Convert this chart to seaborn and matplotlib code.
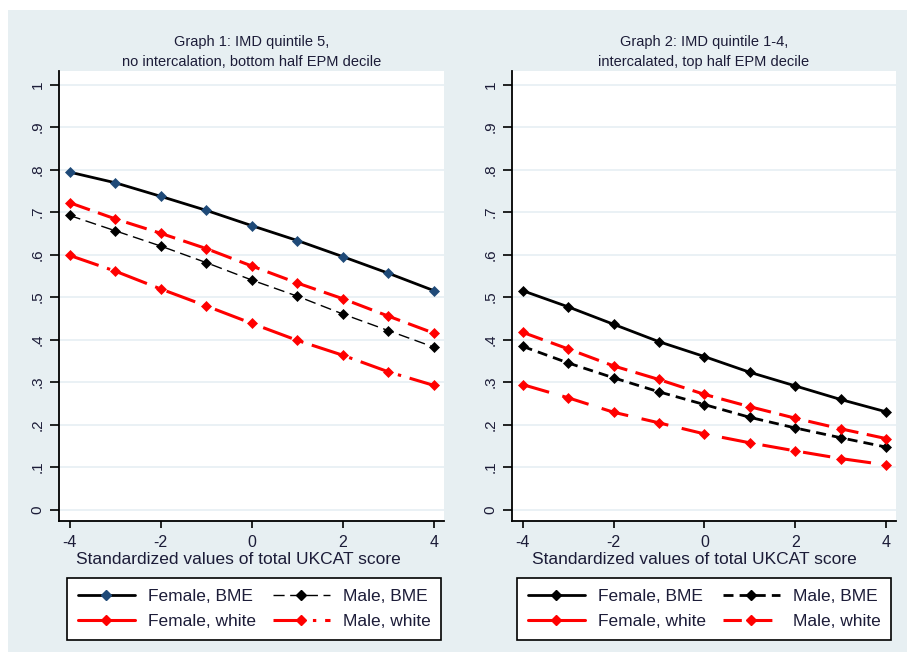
import numpy as np
import pandas as pd
import matplotlib
matplotlib.use('Agg')
import matplotlib.pyplot as plt
from matplotlib.lines import Line2D
from matplotlib.patches import Rectangle
import seaborn as sns

## Datos

x_vals = [-4, -3, -2, -1, 0, 1, 2, 3, 4]

# Graph 1
g1_female_bme = [0.794, 0.769, 0.737, 0.704, 0.668, 0.633, 0.595, 0.556, 0.515]
g1_female_white = [0.722, 0.684, 0.650, 0.614, 0.573, 0.533, 0.496, 0.455, 0.415]
g1_male_bme = [0.692, 0.656, 0.620, 0.581, 0.540, 0.502, 0.460, 0.421, 0.382]
g1_male_white = [0.598, 0.561, 0.519, 0.479, 0.438, 0.398, 0.363, 0.324, 0.292]

# Graph 2
g2_female_bme = [0.515, 0.477, 0.436, 0.395, 0.360, 0.323, 0.291, 0.259, 0.230]
g2_female_white = [0.417, 0.378, 0.338, 0.306, 0.271, 0.242, 0.215, 0.190, 0.167]
g2_male_bme = [0.384, 0.345, 0.310, 0.277, 0.247, 0.217, 0.192, 0.169, 0.147]
g2_male_white = [0.294, 0.263, 0.229, 0.204, 0.178, 0.157, 0.138, 0.120, 0.105]

titles = ['Graph 1: IMD quintile 5,\nno intercalation, bottom half EPM decile',
          'Graph 2: IMD quintile 1-4,\nintercalated, top half EPM decile']
series_names = ['Female, BME', 'Male, BME', 'Female, white', 'Male, white']
x_ticks = [-4, -2, 0, 2, 4]
y_ticks = [0, .1, .2, .3, .4, .5, .6, .7, .8, .9, 1]
y_tick_labels = ['0', '.1', '.2', '.3', '.4', '.5', '.6', '.7', '.8', '.9', '1']
x_label = 'Standardized values of total UKCAT score'

sns.set_style('ticks')
plt.rcParams['font.family'] = ['Liberation Sans', 'DejaVu Sans']

bg = '#e7eff2'
txt = '#1c1c38'
navy = '#1f4a78'
red = '#ff0000'

# estilos por panel: (color linea, color marcador, ancho, linestyle)
styles = [
    {
        'Female, BME': ('black', navy, 2.0, '-'),
        'Male, BME': ('black', 'black', 1.0, (0, (8, 4))),
        'Female, white': (red, red, 2.2, (0, (7, 2.8))),
        'Male, white': (red, red, 2.2, (0, (10, 2.9, 1.1, 2.9))),
    },
    {
        'Female, BME': ('black', 'black', 2.0, '-'),
        'Male, BME': ('black', 'black', 2.0, (0, (3.6, 2.2))),
        'Female, white': (red, red, 2.2, (0, (7, 2.8))),
        'Male, white': (red, red, 2.2, (0, (9, 4.5))),
    },
]
legend_styles = [
    {'Female, white': '-', 'Male, white': (0, (10, 2.9, 1.1, 2.9))},
    {'Female, white': '-', 'Male, white': (0, (6, 4))},
]

panels = [
    {'Female, BME': g1_female_bme, 'Male, BME': g1_male_bme,
     'Female, white': g1_female_white, 'Male, white': g1_male_white},
    {'Female, BME': g2_female_bme, 'Male, BME': g2_male_bme,
     'Female, white': g2_female_white, 'Male, white': g2_male_white},
]

fig = plt.figure(figsize=(9.07, 6.52), dpi=100)
fig.patch.set_facecolor('white')
fig.patches.append(Rectangle((8 / 907, 0), 1, 642 / 652, transform=fig.transFigure,
                             facecolor=bg, edgecolor='none', zorder=-10))

ax_pos = [[59 / 907, 1 - 521 / 652, 385 / 907, 450 / 652],
          [512 / 907, 1 - 521 / 652, 384 / 907, 450 / 652]]
xlabel_x = [0.465, 0.475]
legend_x = [(67 - 59) / 385, (517 - 512) / 384]

for i in range(2):
    ax = fig.add_axes(ax_pos[i])
    ax.set_facecolor('white')
    data = panels[i]
    for name in series_names:
        col, mcol, lw, ls = styles[i][name]
        df = pd.DataFrame({'x': x_vals, 'y': data[name]})
        sns.lineplot(data=df, x='x', y='y', ax=ax, color=col, lw=lw, linestyle=ls,
                     marker='D', markersize=5, markerfacecolor=mcol,
                     markeredgecolor=mcol, markeredgewidth=0.5, legend=False)

    ax.set_xlim(-4.235, 4.22)
    ax.set_ylim(-0.027, 1.032)
    ax.set_xticks(x_ticks)
    ax.set_xticklabels([str(t) for t in x_ticks], fontsize=11.5, color=txt)
    ax.set_yticks(y_ticks)
    ax.set_yticklabels(y_tick_labels, fontsize=11, color=txt, rotation=90, va='center')
    ax.yaxis.grid(True, color='#e6eff3', lw=1.2)
    ax.xaxis.grid(False)
    for s in ['top', 'right']:
        ax.spines[s].set_visible(False)
    for s in ['left', 'bottom']:
        ax.spines[s].set_linewidth(1.3)
        ax.spines[s].set_color('black')
    ax.tick_params(axis='y', length=6.5, width=1.2, pad=4, color='black')
    ax.tick_params(axis='x', length=5, width=1.2, pad=5, color='black')

    ax.set_ylabel('')
    ax.set_xlabel(x_label, fontsize=12.5, color=txt)
    ax.xaxis.set_label_coords(xlabel_x[i], -0.068)

    ax.set_title(titles[i], fontsize=10.5, color=txt, linespacing=1.55, pad=3.5)

    # leyenda a mano
    handles = []
    for name in ['Female, BME', 'Female, white', 'Male, BME', 'Male, white']:
        col, mcol, lw, ls = styles[i][name]
        ls_leg = legend_styles[i].get(name, ls)
        handles.append(Line2D([], [], color=col, lw=lw, linestyle=ls_leg, marker='D',
                              markersize=5, markerfacecolor=mcol, markeredgecolor=mcol))
    labels = ['Female, BME', 'Female, white', 'Male, BME', 'Male, white']
    leg = ax.legend(handles, labels, ncol=2, loc='upper left',
                    bbox_to_anchor=(legend_x[i], -0.1267), borderaxespad=0,
                    fontsize=12.5, handlelength=3.3, handletextpad=0.75,
                    columnspacing=0.95, labelspacing=0.58, borderpad=0.62,
                    frameon=True, fancybox=False, numpoints=1)
    leg.get_frame().set_edgecolor('black')
    leg.get_frame().set_linewidth(1.2)
    leg.get_frame().set_facecolor('white')
    leg.get_frame().set_alpha(1)
    for t in leg.get_texts():
        t.set_color(txt)

plt.savefig('out.png', dpi=100, facecolor=fig.get_facecolor())
plt.close()
